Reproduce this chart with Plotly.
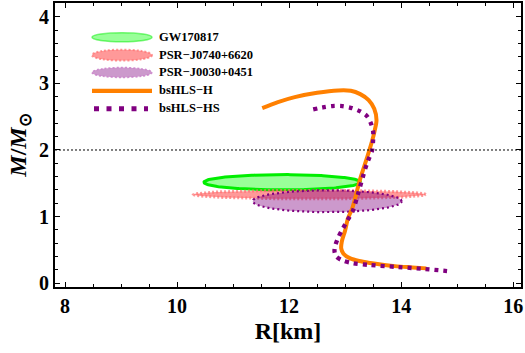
import numpy as np
import plotly.graph_objects as go

# ---------------- data ----------------
x_ticks = [8, 10, 12, 14, 16]
y_ticks = [0, 1, 2, 3, 4]

# observational constraints: (centre R, centre M, semi-axis R, semi-axis M)
gw_ellipse = [11.88, 1.515, 1.40, 0.115]
j0740_ellipse = [12.37, 1.33, 2.07, 0.065]
j0030_ellipse = [12.68, 1.23, 1.33, 0.165]

h_R = [11.52, 11.80, 12.10, 12.50, 12.875, 13.10, 13.27, 13.42, 13.52, 13.56, 13.53,
       13.48, 13.39, 13.27, 13.13, 13.05, 13.00, 12.94, 12.93, 12.97, 13.09, 13.25,
       13.45, 13.70, 13.93, 14.20, 14.45]
h_M = [2.63, 2.72, 2.795, 2.86, 2.895, 2.89, 2.84, 2.75, 2.62, 2.45, 2.30,
       2.13, 1.88, 1.57, 1.13, 0.97, 0.79, 0.62, 0.52, 0.44, 0.37, 0.33,
       0.30, 0.27, 0.25, 0.235, 0.22]

hs_R = [12.43, 12.60, 12.77, 12.95, 13.12, 13.27, 13.39, 13.46, 13.50, 13.50, 13.48,
        13.41, 13.36, 13.23, 13.14, 13.04, 12.96, 12.88, 12.83, 12.81, 12.84, 12.95,
        13.13, 13.45, 13.95, 14.43, 14.82]
hs_M = [2.61, 2.64, 2.66, 2.66, 2.63, 2.58, 2.51, 2.40, 2.28, 2.15, 1.99,
        1.84, 1.72, 1.34, 1.09, 0.94, 0.82, 0.69, 0.58, 0.48, 0.40, 0.34,
        0.30, 0.27, 0.24, 0.21, 0.18]

legend_labels = ["GW170817", "PSR\u2212J0740+6620", "PSR\u2212J0030+0451",
                 "bsHLS\u2212H", "bsHLS\u2212HS"]

# ---------------- figure ----------------
W, H = 525, 353
ML, MR, MT, MB = 55, 4, 1, 66
PW, PH = W - ML - MR, H - MT - MB

def ellipse(p, n=240):
    t = np.linspace(0, 2 * np.pi, n)
    return p[0] + p[2] * np.cos(t), p[1] + p[3] * np.sin(t)

fig = go.Figure()

ex, ey = ellipse(gw_ellipse)
fig.add_trace(go.Scatter(x=ex, y=ey, mode="lines", fill="toself",
                         fillcolor="rgba(0,255,0,0.4)",
                         line=dict(color="#00ee00", width=3), showlegend=False))
ex, ey = ellipse(j0740_ellipse)
fig.add_trace(go.Scatter(x=ex, y=ey, mode="lines", fill="toself",
                         fillcolor="rgba(255,0,0,0.4)",
                         line=dict(color="rgba(255,110,110,0.7)", width=3, dash="2px,2px"),
                         showlegend=False))
ex, ey = ellipse(j0030_ellipse)
fig.add_trace(go.Scatter(x=ex, y=ey, mode="lines", fill="toself",
                         fillcolor="rgba(128,0,128,0.4)",
                         line=dict(color="#800080", width=2.2, dash="2px,3px"),
                         showlegend=False))

fig.add_trace(go.Scatter(x=h_R, y=h_M, mode="lines",
                         line=dict(color="#ff8000", width=4, shape="spline", smoothing=0.8),
                         showlegend=False))
fig.add_trace(go.Scatter(x=hs_R, y=hs_M, mode="lines",
                         line=dict(color="#800080", width=4.3, dash="4px,5px",
                                   shape="spline", smoothing=0.8),
                         showlegend=False))

# reference line at 2 solar masses
fig.add_shape(type="line", xref="paper", yref="y", x0=0, x1=1, y0=2, y1=2,
              line=dict(color="black", width=1, dash="2px,2px"))

# ---------------- manual legend ----------------
def px(xp):
    return (xp - ML) / PW

def py(yp):
    return (H - MB - yp) / PH

rows = [35.5, 53.5, 71, 89.5, 107.5]
sx0, sx1 = 92, 152
fig.add_shape(type="circle", xref="paper", yref="paper",
              x0=px(sx0), x1=px(sx1), y0=py(rows[0] + 4.5), y1=py(rows[0] - 4.5),
              fillcolor="rgba(0,255,0,0.4)", line=dict(color="rgba(0,238,0,0.5)", width=1.5))
fig.add_shape(type="circle", xref="paper", yref="paper",
              x0=px(sx0), x1=px(sx1), y0=py(rows[1] + 5.5), y1=py(rows[1] - 5.5),
              fillcolor="rgba(255,0,0,0.4)", line=dict(color="rgba(255,110,110,0.7)", width=2, dash="2px,2px"))
fig.add_shape(type="circle", xref="paper", yref="paper",
              x0=px(sx0), x1=px(sx1), y0=py(rows[2] + 5), y1=py(rows[2] - 5),
              fillcolor="rgba(128,0,128,0.4)", line=dict(color="rgba(200,120,200,0.8)", width=1.5, dash="2px,2px"))
fig.add_shape(type="line", xref="paper", yref="paper",
              x0=px(sx0), x1=px(sx1), y0=py(rows[3]), y1=py(rows[3]),
              line=dict(color="#ff8000", width=4.4))
fig.add_shape(type="line", xref="paper", yref="paper",
              x0=px(94), x1=px(148), y0=py(rows[4]), y1=py(rows[4]),
              line=dict(color="#800080", width=5, dash="5px,7.5px"))

for lab, r in zip(legend_labels, rows):
    fig.add_annotation(xref="paper", yref="paper", x=px(157), y=py(r - 0.5),
                       text=lab, showarrow=False, xanchor="left", yanchor="middle",
                       font=dict(family="Liberation Serif", size=12.5, color="black",
                                 weight="bold"))

# ---------------- axes ----------------
axis_common = dict(showgrid=False, zeroline=False, showline=True, linecolor="black",
                   linewidth=2, mirror="allticks", ticks="inside", ticklen=5,
                   tickwidth=1, tickcolor="black",
                   tickfont=dict(family="Liberation Serif", size=20, color="black",
                                 weight="bold"))

fig.update_xaxes(range=[7.82, 16.14], tickvals=x_ticks,
                 ticktext=[str(v) for v in x_ticks],
                 minor=dict(dtick=0.5, ticks="inside", ticklen=3, tickcolor="black"),
                 title=dict(text="R[km]", standoff=6,
                            font=dict(family="Liberation Serif", size=24, color="black",
                                      weight="bold")),
                 **axis_common)
fig.update_yaxes(range=[-0.06, 4.21], tickvals=y_ticks,
                 ticktext=[str(v) for v in y_ticks],
                 minor=dict(dtick=0.2, ticks="inside", ticklen=3, tickcolor="black"),
                 title=dict(text="<i>M</i>/<i>M</i><sub>\u2299</sub>", standoff=6,
                            font=dict(family="Liberation Serif", size=24, color="black",
                                      weight="bold")),
                 **axis_common)

fig.update_layout(width=W, height=H, margin=dict(l=ML, r=MR, t=MT, b=MB),
                  plot_bgcolor="white", paper_bgcolor="white", showlegend=False)

fig.write_html("out.html")
